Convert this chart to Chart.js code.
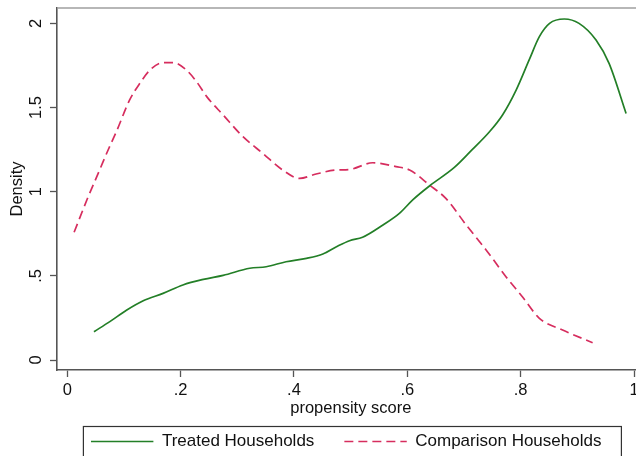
<!DOCTYPE html>
<html>
<head>
<meta charset="utf-8">
<script src="https://cdn.jsdelivr.net/npm/chart.js@4.4.1/dist/chart.umd.min.js"></script>
<style>
html,body{margin:0;padding:0;background:#fff;overflow:hidden;width:636px;height:456px}
#wrap{position:absolute;left:0;top:0;width:700px;height:460px}
canvas{display:block}
</style>
</head>
<body>
<div id="wrap"><canvas id="c" width="700" height="460"></canvas></div>
<script>
// ---- data ----
const seriesNames = ['Treated Households', 'Comparison Households'];

const treatedScore = [0.047,0.075,0.105,0.134,0.169,0.204,0.240,0.275,0.322,0.351,0.386,0.422,0.451,0.475,0.498,0.521,0.557,0.586,0.610,0.639,0.683,0.714,0.745,0.768,0.792,0.815,0.833,0.851,0.877,0.903,0.933,0.956,0.986];
const treatedDensity = [0.168,0.228,0.297,0.352,0.396,0.446,0.479,0.503,0.545,0.554,0.584,0.604,0.630,0.673,0.709,0.729,0.802,0.871,0.953,1.034,1.144,1.248,1.356,1.456,1.604,1.783,1.921,2.000,2.026,2.000,1.901,1.762,1.465];

const comparisonScore = [0.012,0.035,0.057,0.072,0.087,0.110,0.128,0.146,0.169,0.187,0.210,0.228,0.246,0.275,0.310,0.345,0.380,0.410,0.439,0.475,0.498,0.539,0.580,0.604,0.639,0.668,0.704,0.739,0.774,0.803,0.833,0.874,0.927];
const comparisonDensity = [0.759,0.955,1.129,1.248,1.360,1.545,1.644,1.723,1.767,1.767,1.723,1.654,1.565,1.456,1.327,1.228,1.129,1.079,1.105,1.129,1.132,1.172,1.149,1.129,1.040,0.960,0.802,0.654,0.495,0.376,0.248,0.178,0.103];

const xTickValues = [0, 0.2, 0.4, 0.6, 0.8, 1];
const xTickLabels = ['0', '.2', '.4', '.6', '.8', '1'];
const yTickValues = [0, 0.5, 1, 1.5, 2];
const yTickLabels = ['0', '.5', '1', '1.5', '2'];

const xTitle = 'propensity score';
const yTitle = 'Density';

// ---- chart ----
const FONT = "'Liberation Sans', Arial, Helvetica, sans-serif";
const AXIS_COLOR = '#555';
const TEXT_COLOR = '#111';

const toPoints = (xs, ys) => xs.map((x, i) => ({x: x, y: ys[i]}));

const framePlugin = {
  id: 'stataFrame',
  afterLayout(chart) {
    const lg = chart.legend;
    if (lg) { lg.left = 47.8; lg.right = chart.chartArea.right; }
  },
  beforeDatasetsDraw(chart) {
    const {ctx, chartArea: a} = chart;
    ctx.save();
    ctx.strokeStyle = '#a0a0a0';
    ctx.lineWidth = 1.5;
    ctx.beginPath();
    ctx.moveTo(a.left, a.top);
    ctx.lineTo(a.right, a.top);
    ctx.lineTo(a.right, a.bottom);
    ctx.stroke();
    ctx.restore();
  },
  afterDraw(chart) {
    const lg = chart.legend;
    if (!lg || !lg.lineWidths) return;
    const ctx = chart.ctx;
    const p = lg.options.labels.padding;
    const startX = (lg.left + p + lg.right - lg.lineWidths[0]) / 2;
    const endX = startX + lg.lineWidths[0] - p;
    const rowY = lg.top + p;
    ctx.save();
    ctx.strokeStyle = '#333';
    ctx.lineWidth = 1.2;
    ctx.strokeRect(startX - 7.6, rowY - 6.5, (endX + 20) - (startX - 7.6), 40);
    ctx.restore();
  }
};

new Chart(document.getElementById('c'), {
  type: 'line',
  data: {
    datasets: [
      {
        label: seriesNames[0],
        data: toPoints(treatedScore, treatedDensity),
        borderColor: '#237f27',
        backgroundColor: '#237f27',
        borderWidth: 1.7,
        pointRadius: 0,
        fill: false,
        cubicInterpolationMode: 'monotone'
      },
      {
        label: seriesNames[1],
        data: toPoints(comparisonScore, comparisonDensity),
        borderColor: '#d62d5e',
        backgroundColor: '#d62d5e',
        borderWidth: 1.7,
        borderDash: [9, 5],
        pointRadius: 0,
        fill: false,
        cubicInterpolationMode: 'monotone'
      }
    ]
  },
  options: {
    responsive: false,
    animation: false,
    devicePixelRatio: 1,
    layout: {padding: {top: 8, left: 0, right: 55.4, bottom: 0}},
    plugins: {
      legend: {
        position: 'bottom',
        labels: {
          usePointStyle: true,
          pointStyle: 'line',
          pointStyleWidth: 62.4,
          padding: 30,
          color: TEXT_COLOR,
          font: {family: FONT, size: 17},
          generateLabels: chart => {
            const items = Chart.defaults.plugins.legend.labels.generateLabels(chart);
            return items.map(it => {
              const ds = chart.data.datasets[it.datasetIndex];
              it.lineDash = ds.borderDash || [];
              it.lineWidth = ds.borderWidth;
              it.strokeStyle = ds.borderColor;
              it.pointStyle = 'line';
              return it;
            });
          }
        }
      },
      tooltip: {enabled: false}
    },
    scales: {
      x: {
        type: 'linear',
        min: -0.0182,
        max: 1.0187,
        afterBuildTicks: s => { s.ticks = xTickValues.map(v => ({value: v})); },
        afterFit: s => { s.height = 33; s.paddingLeft = 0; s.paddingRight = 0; },
        ticks: {
          callback: (v, i) => xTickLabels[i],
          color: TEXT_COLOR,
          font: {family: FONT, size: 16.5},
          padding: 4,
          autoSkip: false,
          maxRotation: 0,
          minRotation: 0
        },
        grid: {drawOnChartArea: false, drawTicks: true, tickLength: 7, tickColor: AXIS_COLOR, tickWidth: 1.3},
        border: {display: true, color: AXIS_COLOR, width: 1.6},
        title: {display: true, text: xTitle, color: TEXT_COLOR, font: {family: FONT, size: 16.5}, padding: {top: 0, bottom: -15.5}}
      },
      y: {
        type: 'linear',
        min: -0.0594,
        max: 2.0915,
        afterBuildTicks: s => { s.ticks = yTickValues.map(v => ({value: v})); },
        afterFit: s => { s.width = 57; s.paddingTop = 0; s.paddingBottom = 0; },
        ticks: {
          callback: (v, i) => yTickLabels[i],
          color: TEXT_COLOR,
          font: {family: FONT, size: 16.5},
          padding: 2.2,
          minRotation: 90,
          maxRotation: 90,
          crossAlign: 'center',
          autoSkip: false
        },
        grid: {drawOnChartArea: false, drawTicks: true, tickLength: 7, tickColor: AXIS_COLOR, tickWidth: 1.3},
        border: {display: true, color: AXIS_COLOR, width: 1.6},
        title: {display: true, text: yTitle, color: TEXT_COLOR, font: {family: FONT, size: 16.5}, padding: {top: 7.9, bottom: 0}}
      }
    }
  },
  plugins: [framePlugin]
});
</script>
</body>
</html>
